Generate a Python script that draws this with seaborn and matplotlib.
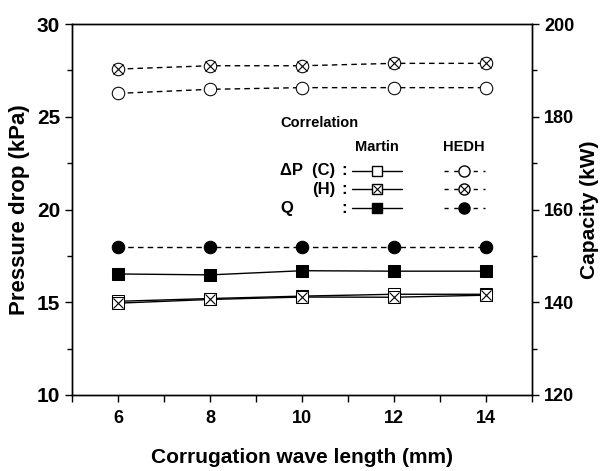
import numpy as np
import pandas as pd
import matplotlib
matplotlib.use("Agg")
import matplotlib.pyplot as plt
import seaborn as sns
from matplotlib.lines import Line2D
from matplotlib.ticker import MultipleLocator

# Data
wave_length = [6, 8, 10, 12, 14]
dp_c_martin = [15.05, 15.20, 15.33, 15.43, 15.43]
dp_h_martin = [14.95, 15.15, 15.28, 15.27, 15.38]
dp_c_hedh = [26.26, 26.48, 26.57, 26.57, 26.57]
dp_h_hedh = [27.57, 27.75, 27.75, 27.88, 27.88]
q_martin = [146.1, 145.9, 146.8, 146.7, 146.7]
q_hedh = [151.9, 151.9, 151.9, 151.9, 151.9]

sns.set_style("ticks")
plt.rcParams['font.family'] = ['Liberation Sans', 'DejaVu Sans']
plt.rcParams['font.weight'] = 'bold'
for k in ['text.color', 'axes.labelcolor', 'xtick.color', 'ytick.color', 'axes.edgecolor']:
    plt.rcParams[k] = 'black'

df = pd.DataFrame({'x': wave_length, 'dp_c_m': dp_c_martin, 'dp_h_m': dp_h_martin,
                   'dp_c_h': dp_c_hedh, 'dp_h_h': dp_h_hedh,
                   'q_m': q_martin, 'q_h': q_hedh})

fig = plt.figure(figsize=(6, 4.71), dpi=100)
ax = fig.add_axes([0.12, 0.1614, 0.767, 0.7876])
ax2 = ax.twinx()

solid = dict(color='black', linewidth=1.0, linestyle='-')
dashed = dict(color='black', linewidth=1.0, dashes=(4, 3))

# Martin: squares, solid lines
sns.lineplot(data=df, x='x', y='dp_c_m', ax=ax, marker='s', markersize=8,
             markerfacecolor='white', markeredgecolor='black', **solid)
sns.lineplot(data=df, x='x', y='dp_h_m', ax=ax, marker='s', markersize=8,
             markerfacecolor='white', markeredgecolor='black', **solid)
ax.plot(df['x'], df['dp_h_m'], linestyle='none', marker='x', markersize=7,
        markeredgecolor='black', markeredgewidth=0.8)
sns.lineplot(data=df, x='x', y='q_m', ax=ax2, marker='s', markersize=8,
             markerfacecolor='black', markeredgecolor='black', **solid)

# HEDH: circles, dashed lines
sns.lineplot(data=df, x='x', y='dp_c_h', ax=ax, marker='o', markersize=9,
             markerfacecolor='white', markeredgecolor='black', **dashed)
sns.lineplot(data=df, x='x', y='dp_h_h', ax=ax, marker='o', markersize=9,
             markerfacecolor='white', markeredgecolor='black', **dashed)
ax.plot(df['x'], df['dp_h_h'], linestyle='none', marker='x', markersize=7,
        markeredgecolor='black', markeredgewidth=0.8)
sns.lineplot(data=df, x='x', y='q_h', ax=ax2, marker='o', markersize=9,
             markerfacecolor='black', markeredgecolor='black', **dashed)

ax.set_xlim(5, 15)
ax.set_ylim(10, 30)
ax2.set_ylim(120, 200)
ax.xaxis.set_major_locator(MultipleLocator(2))
ax.xaxis.set_minor_locator(MultipleLocator(1))
ax.yaxis.set_major_locator(MultipleLocator(5))
ax.yaxis.set_minor_locator(MultipleLocator(2.5))
ax2.yaxis.set_major_locator(MultipleLocator(20))
ax2.yaxis.set_minor_locator(MultipleLocator(10))

for a in (ax, ax2):
    a.tick_params(which='major', direction='out', length=5, width=1, labelsize=13)
    a.tick_params(which='minor', direction='out', length=3.5, width=1)
    for s in a.spines.values():
        s.set_visible(True)
        s.set_linewidth(1)
ax.tick_params(axis='x', which='minor', length=5)
ax.tick_params(axis='x', which='major', pad=6)
ax.tick_params(axis='y', right=False, which='both', labelsize=15)

ax.set_xlabel('Corrugation wave length (mm)', fontsize=15, fontweight='bold', labelpad=15)
ax.set_ylabel('Pressure drop (kPa)', fontsize=16, fontweight='bold', labelpad=5)
ax2.set_ylabel('Capacity (kW)', fontsize=15, fontweight='bold', labelpad=4)
ax.grid(False)
ax2.grid(False)

# Text-style legend in the upper middle of the axes
tr = ax.transAxes
ax.text(0.452, 0.733, 'Correlation', transform=tr, fontsize=10.5, va='center', ha='left')
ax.text(0.663, 0.668, 'Martin', transform=tr, fontsize=10.5, va='center', ha='center')
ax.text(0.852, 0.668, 'HEDH', transform=tr, fontsize=10.5, va='center', ha='center')
rows = [0.604, 0.555, 0.504]
ax.text(0.572, rows[0], '\u0394P  (C)', transform=tr, fontsize=12, va='center', ha='right')
ax.text(0.572, rows[1], '(H)', transform=tr, fontsize=12, va='center', ha='right')
ax.text(0.467, rows[2], 'Q', transform=tr, fontsize=12, va='center', ha='center')
for r in rows:
    ax.text(0.591, r, ':', transform=tr, fontsize=12, va='center', ha='center')

fills = ['white', 'white', 'black']
crossed = [False, True, False]
for r, fc, cx in zip(rows, fills, crossed):
    ax.add_line(Line2D([0.609, 0.717], [r, r], transform=tr, color='black', lw=1))
    ax.add_line(Line2D([0.663], [r], transform=tr, marker='s', markersize=7,
                       markerfacecolor=fc, markeredgecolor='black', linestyle='none'))
    ax.add_line(Line2D([0.809, 0.898], [r, r], transform=tr, color='black', lw=1,
                       dashes=(3, 4)))
    ax.add_line(Line2D([0.852], [r], transform=tr, marker='o', markersize=8,
                       markerfacecolor=fc, markeredgecolor='black', linestyle='none'))
    if cx:
        ax.add_line(Line2D([0.663], [r], transform=tr, marker='x', markersize=6,
                           markeredgecolor='black', markeredgewidth=0.8, linestyle='none'))
        ax.add_line(Line2D([0.852], [r], transform=tr, marker='x', markersize=6,
                           markeredgecolor='black', markeredgewidth=0.8, linestyle='none'))

fig.savefig('out.png', dpi=100)
